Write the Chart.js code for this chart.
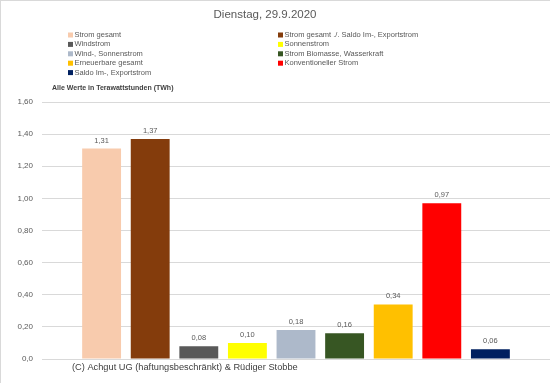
<!DOCTYPE html>
<html>
<head>
<meta charset="utf-8">
<script src="https://cdn.jsdelivr.net/npm/chart.js@4"></script>
<style>
  html, body { margin: 0; padding: 0; background: #fff; }
  #wrap { position: relative; width: 550px; height: 383px; }
  #frame { position: absolute; left: 0; top: 0; width: 550px; height: 383px;
           border-top: 1px solid #d9d9d9; border-left: 1px solid #d9d9d9; box-sizing: border-box; pointer-events: none; }
</style>
</head>
<body>
<div id="wrap">
  <canvas id="stromChart" width="550" height="383"></canvas>
  <div id="frame"></div>
</div>
<script>
const chartTitle = "Dienstag, 29.9.2020";
const unitNote = "Alle Werte in Terawattstunden (TWh)";
const copyright = "(C) Achgut UG (haftungsbeschränkt) & Rüdiger Stobbe";

const categories = [
    "Strom gesamt",
    "Strom gesamt ./. Saldo Im-, Exportstrom",
    "Windstrom",
    "Sonnenstrom",
    "Wind-, Sonnenstrom",
    "Strom Biomasse, Wasserkraft",
    "Erneuerbare gesamt",
    "Konventioneller Strom",
    "Saldo Im-, Exportstrom"
];
const values = [1.31, 1.37, 0.08, 0.10, 0.18, 0.16, 0.34, 0.97, 0.06];
const colors = ["#f8cbad", "#843c0c", "#595959", "#ffff00", "#adb9ca", "#375623", "#ffc000", "#ff0000", "#002060"];
const yTickLabels = ["0,0", "0,20", "0,40", "0,60", "0,80", "1,00", "1,20", "1,40", "1,60"];

const fmt = (v) => v.toFixed(2).replace(".", ",");

// Excel-Stil: Legende in zwei Spalten, Texte, Werte ueber den Balken
const decorations = {
    id: "decorations",
    afterDatasetsDraw: function (chart) {
        const ctx = chart.ctx;
        ctx.save();
        ctx.font = '7.5px "Liberation Sans"';
        ctx.fillStyle = "#595959";
        ctx.textAlign = "center";
        ctx.textBaseline = "middle";
        chart.data.datasets.forEach(function (ds, i) {
            const bar = chart.getDatasetMeta(i).data[0];
            ctx.fillText(fmt(ds.data[0]), bar.x, bar.y - 8);
        });
        ctx.restore();
    },
    afterDraw: function (chart) {
        const ctx = chart.ctx;
        ctx.save();
        ctx.fillStyle = "#595959";
        ctx.textBaseline = "middle";
        ctx.textAlign = "center";
        ctx.font = '11.5px "Liberation Sans"';
        ctx.fillText(chartTitle, 265, 15);

        ctx.textAlign = "left";
        ctx.font = '7.5px "Liberation Sans"';
        chart.data.datasets.forEach(function (ds, i) {
            const x = i % 2 === 0 ? 68 : 278;
            const y = 35 + Math.floor(i / 2) * 9.4;
            ctx.fillStyle = ds.backgroundColor;
            ctx.fillRect(x, y - 2.5, 5, 5);
            ctx.fillStyle = "#595959";
            ctx.fillText(ds.label, x + 6.5, y);
        });

        ctx.fillStyle = "#404040";
        ctx.font = 'bold 7px "Liberation Sans"';
        ctx.fillText(unitNote, 52, 88);

        ctx.font = '9.25px "Liberation Sans"';
        ctx.fillText(copyright, 72, 367);
        ctx.restore();
    }
};

new Chart(document.getElementById("stromChart").getContext("2d"), {
    type: "bar",
    data: {
        labels: [""],
        datasets: categories.map((name, i) => ({
            label: name,
            data: [values[i]],
            backgroundColor: colors[i],
            categoryPercentage: 0.861,
            barPercentage: 0.8
        }))
    },
    options: {
        responsive: false,
        animation: false,
        layout: { padding: { top: 102, bottom: 24, left: 0, right: 0 } },
        plugins: {
            legend: { display: false },
            tooltip: { enabled: false }
        },
        scales: {
            x: { display: false },
            y: {
                min: 0,
                max: 1.6,
                ticks: {
                    stepSize: 0.2,
                    padding: 9,
                    color: "#595959",
                    font: { family: "Liberation Sans", size: 8 },
                    callback: function (value, index) { return yTickLabels[index]; }
                },
                grid: { color: "#d9d9d9", drawTicks: false },
                border: { display: false },
                afterFit: function (scale) { scale.width = 42; }
            }
        }
    },
    plugins: [decorations]
});
</script>
</body>
</html>
